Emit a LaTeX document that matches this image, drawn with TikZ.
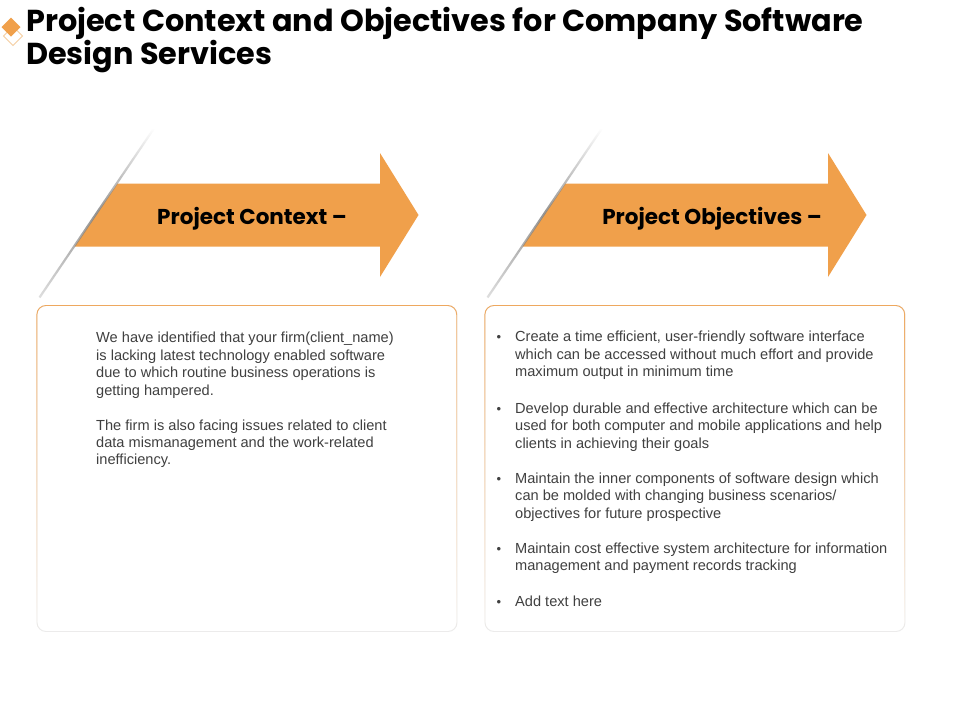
\documentclass[tikz,border=0pt]{standalone}
\usepackage{fontspec}
\setmainfont{Liberation Sans}
\newfontfamily\headfont{Poppins}
\usetikzlibrary{fadings}
\definecolor{arroworange}{RGB}{240,160,75}
\definecolor{bodygray}{RGB}{64,64,64}
\definecolor{linegray}{RGB}{130,130,130}
\definecolor{boxorange}{RGB}{238,168,95}
\definecolor{boxgray}{RGB}{236,236,236}
\definecolor{dialight}{RGB}{245,205,160}
\tikzfading[name=boxfade, top color=transparent!0, bottom color=transparent!100]
\tikzfading[name=midfade, top color=transparent!100, bottom color=transparent!75, middle color=transparent!15]
\tikzset{
  titlestyle/.style={font=\headfont\bfseries\fontsize{30.3}{33}\selectfont, inner sep=0pt, text=black},
  arrowtext/.style={font=\headfont\bfseries\fontsize{21.5}{24}\selectfont, inner sep=0pt, text=black},
  bodytext/.style={font=\fontsize{14.6}{17.4}\selectfont, inner sep=0pt, text=bodygray, align=left, anchor=north west},
  bulletmark/.style={font=\fontsize{13}{17.4}\selectfont, inner sep=0pt, text=bodygray, anchor=base west},
  arrowfill/.style={fill=arroworange, draw=none},
  slashline/.style={draw=linegray, line width=2.2pt, path fading=midfade},
  boxbase/.style={draw=boxgray, line width=0.9pt, fill=white, rounded corners=9pt},
  boxtop/.style={draw=boxorange, line width=0.9pt, rounded corners=9pt, path fading=boxfade},
}
\begin{document}
\begin{tikzpicture}[x=1pt,y=-1pt]
\useasboundingbox (0,0) rectangle (960,720);
\fill[white] (0,0) rectangle (960,720);

% title icon
\draw[dialight, line width=0.8pt, fill=white] (13,26.5) -- (22.5,36) -- (13,45.5) -- (3.5,36) -- cycle;
\fill[arroworange] (11,17.5) -- (20.5,27) -- (11,36.5) -- (1.5,27) -- cycle;

% title
\node[titlestyle, anchor=base west] (t1) at (26,31) {Project Context and Objectives for Company Software};
\node[titlestyle, anchor=base west] (t2) at (26,64) {Design Services};

% arrows
\foreach \dx in {0,448}{
  \begin{scope}[xshift=\dx pt]
    \fill[arrowfill] (117.5,183.5) -- (380,183.5) -- (380,153) -- (418.5,215) -- (380,277) -- (380,246.5) -- (74.5,246.5) -- cycle;
    \draw[slashline] (153.5,129) -- (39.5,297.5);
  \end{scope}
}
\node[arrowtext] (ctx) at (252,218.5) {Project Context –};
\node[arrowtext] (obj) at (712,218.5) {Project Objectives –};

% boxes
\draw[boxbase] (37,305.5) rectangle (457,631.5);
\draw[boxtop] (37,305.5) rectangle (457,631.5);
\draw[boxbase] (485,305.5) rectangle (905,631.5);
\draw[boxtop] (485,305.5) rectangle (905,631.5);

% left text
\node[bodytext] (p1) at (96,332.1) {We have identified that your firm(client\_name)\\is lacking latest technology enabled software\\due to which routine business operations is\\getting hampered.};
\node[bodytext] (p2) at (96,419.4) {The firm is also facing issues related to client\\data mismanagement and the work-related\\inefficiency.};

% right text
\node[bulletmark] (b1) at (496.5,341.7) {•};
\node[bodytext] (r1) at (515,331.1) {Create a time efficient, user-friendly software interface\\which can be accessed without much effort and provide\\maximum output in minimum time};
\node[bulletmark] (b2) at (496.5,413.3) {•};
\node[bodytext] (r2) at (515,402.7) {Develop durable and effective architecture which can be\\used for both computer and mobile applications and help\\clients in achieving their goals};
\node[bulletmark] (b3) at (496.5,483.3) {•};
\node[bodytext] (r3) at (515,472.7) {Maintain the inner components of software design which\\can be molded with changing business scenarios/\\objectives for future prospective};
\node[bulletmark] (b4) at (496.5,553.3) {•};
\node[bodytext] (r4) at (515,542.7) {Maintain cost effective system architecture for information\\management and payment records tracking};
\node[bulletmark] (b5) at (496.5,606) {•};
\node[bodytext] (r5) at (515,595.4) {Add text here};
\end{tikzpicture}
\end{document}
